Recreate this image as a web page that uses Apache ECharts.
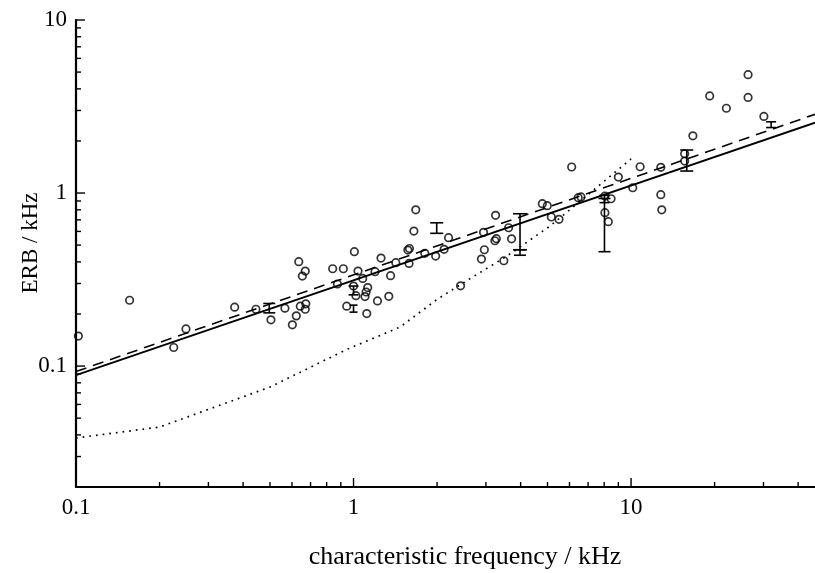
<!DOCTYPE html>
<html>
<head>
<meta charset="utf-8">
<script src="https://cdn.jsdelivr.net/npm/echarts@6/dist/echarts.min.js"></script>
<style>html,body{margin:0;padding:0;background:#fff}#c{width:815px;height:573px}</style>
</head>
<body>
<div id="c"></div>
<script>
// ---- data (kHz) ----
const X_MIN = 0.1, X_MAX = 46;
const Y_MIN = 0.02, Y_MAX = 10;
const TICK_VALUES = [0.1, 1, 10];
const TICK_LABELS = ['0.1', '1', '10'];
const X_MINOR = [0.2,0.3,0.4,0.5,0.6,0.7,0.8,0.9,2,3,4,5,6,7,8,9,20,30,40];
const Y_MINOR = [0.03,0.04,0.05,0.06,0.07,0.08,0.09,0.2,0.3,0.4,0.5,0.6,0.7,0.8,0.9,2,3,4,5,6,7,8,9];

const CF = [0.102,0.156,0.225,0.249,0.373,0.445,0.504,0.566,0.602,0.622,0.643,0.673,0.670,0.635,0.670,0.654,0.841,0.875,0.919,0.945,
  1.0,1.007,1.038,1.02,1.079,1.10,1.11,1.125,1.116,1.195,1.22,1.256,1.34,1.36,1.42,1.585,1.57,1.59,1.65,1.676,
  1.806,1.977,2.12,2.20,2.43,2.89,2.96,2.94,3.25,3.23,3.27,3.48,3.62,3.71,4.79,4.99,5.16,5.50,6.11,6.45,
  6.6,8.05,8.47,8.05,8.28,9.0,10.14,10.78,12.8,12.8,12.9,15.6,15.6,16.7,19.2,22.05,26.4,26.4,30.1];
const ERB = [0.149,0.240,0.128,0.164,0.219,0.213,0.185,0.216,0.173,0.195,0.222,0.229,0.213,0.401,0.354,0.331,0.365,0.298,0.365,0.222,
  0.29,0.458,0.354,0.255,0.321,0.252,0.268,0.284,0.201,0.351,0.238,0.421,0.253,0.333,0.396,0.392,0.468,0.478,0.603,0.80,
  0.448,0.432,0.473,0.552,0.291,0.415,0.470,0.593,0.743,0.53,0.545,0.406,0.63,0.544,0.868,0.845,0.727,0.705,1.414,0.94,
  0.95,0.96,0.927,0.77,0.683,1.237,1.073,1.419,1.408,0.978,0.80,1.687,1.53,2.14,3.64,3.09,4.83,3.57,2.77];

const EB_X  = [0.497,1.0,1.0,1.994,3.98,3.98,8.02,8.02,15.87,31.96];
const EB_LO = [0.203,0.205,0.258,0.585,0.47,0.437,0.458,0.88,1.34,2.39];
const EB_HI = [0.230,0.225,0.290,0.673,0.759,0.47,0.93,0.97,1.772,2.58];

const SOLID_X = [0.1, 46];
const SOLID_Y = [0.0887, 2.55];
const DASH_X = [0.1, 46];
const DASH_Y = [0.093, 2.85];
const DOT_X = [0.1,0.2,0.5,0.948,1.47,1.994,2.48,3.57,5.11,7.11,10];
const DOT_Y = [0.0384,0.0444,0.0756,0.125,0.168,0.242,0.302,0.432,0.645,1.0,1.574];

const X_TITLE = 'characteristic frequency / kHz';
const Y_TITLE = 'ERB / kHz';

// ---- build ----
const FONT = '"Liberation Serif","DejaVu Serif",serif';
const zip = (a, b) => a.map((v, i) => [v, b[i]]);
function fmt(v){
  for (let i = 0; i < TICK_VALUES.length; i++) {
    if (Math.abs(v - TICK_VALUES[i]) / TICK_VALUES[i] < 1e-6) return TICK_LABELS[i];
  }
  return '';
}
const xTickData = TICK_VALUES.map(v => [v, Y_MIN, 9]).concat(X_MINOR.map(v => [v, Y_MIN, 5]));
const yTickData = TICK_VALUES.map(v => [X_MIN, v, 9]).concat(Y_MINOR.map(v => [X_MIN, v, 5]));
const ebData = EB_X.map((x, i) => [x, EB_LO[i], EB_HI[i]]);
const EB_CAP = [6,4,5,6.5,7,6,6,5,6.5,5];

const stroke = { stroke: '#000', lineWidth: 1.6 };

const chart = echarts.init(document.getElementById('c'), null, { renderer: 'canvas' });
chart.setOption({
  animation: false,
  backgroundColor: '#fff',
  grid: { left: 76, right: 0, top: 20, bottom: 86, containLabel: false },
  xAxis: {
    type: 'log', logBase: 10, min: X_MIN, max: X_MAX,
    axisLine: { show: true, lineStyle: { color: '#000', width: 2.2 } },
    axisTick: { show: false },
    splitLine: { show: false },
    minorTick: { show: false },
    axisLabel: { formatter: fmt, color: '#000', fontFamily: FONT, fontSize: 23, margin: 9, showMinLabel: true, showMaxLabel: false }
  },
  yAxis: {
    type: 'log', logBase: 10, min: Y_MIN, max: Y_MAX,
    axisLine: { show: true, lineStyle: { color: '#000', width: 2.2 } },
    axisTick: { show: false },
    splitLine: { show: false },
    minorTick: { show: false },
    axisLabel: { formatter: fmt, color: '#000', fontFamily: FONT, fontSize: 23, margin: 9, showMinLabel: false, showMaxLabel: true }
  },
  graphic: [
    { type: 'text', x: 465, y: 557, style: { text: X_TITLE, font: '26px ' + FONT, fill: '#000', align: 'center', verticalAlign: 'middle' } },
    { type: 'text', x: 31, y: 243, rotation: Math.PI / 2, style: { text: Y_TITLE, font: '23px ' + FONT, fill: '#000', align: 'center', verticalAlign: 'middle' } }
  ],
  series: [
    { type: 'line', data: zip(SOLID_X, SOLID_Y), showSymbol: false, silent: true,
      lineStyle: { color: '#000', width: 1.8, type: 'solid' }, z: 3 },
    { type: 'line', data: zip(DASH_X, DASH_Y), showSymbol: false, silent: true,
      lineStyle: { color: '#000', width: 1.6, type: [11, 7] }, z: 3 },
    { type: 'line', data: zip(DOT_X, DOT_Y), showSymbol: false, silent: true,
      lineStyle: { color: '#000', width: 1.7, type: [1.7, 5] }, z: 3 },
    { type: 'scatter', data: zip(CF, ERB), symbol: 'circle', symbolSize: 7.5, silent: true,
      itemStyle: { color: 'rgba(255,255,255,0)', borderColor: '#000', borderWidth: 1.7 }, z: 5 },
    { type: 'custom', data: ebData, encode: { x: 0, y: [1, 2] }, silent: true, z: 6, clip: false,
      renderItem: function (params, api) {
        const x = api.value(0), lo = api.value(1), hi = api.value(2);
        const w = EB_CAP[params.dataIndex];
        const a = api.coord([x, lo]), b = api.coord([x, hi]);
        return { type: 'group', children: [
          { type: 'line', shape: { x1: a[0], y1: a[1], x2: b[0], y2: b[1] }, style: stroke },
          { type: 'line', shape: { x1: a[0] - w, y1: a[1], x2: a[0] + w, y2: a[1] }, style: stroke },
          { type: 'line', shape: { x1: b[0] - w, y1: b[1], x2: b[0] + w, y2: b[1] }, style: stroke }
        ] };
      } },
    { type: 'custom', data: xTickData, encode: { x: 0, y: 1 }, silent: true, z: 7, clip: false,
      renderItem: function (params, api) {
        const p = api.coord([api.value(0), api.value(1)]);
        const len = api.value(2);
        return { type: 'line', shape: { x1: p[0], y1: p[1], x2: p[0], y2: p[1] - len }, style: { stroke: '#000', lineWidth: 1.4 } };
      } },
    { type: 'custom', data: yTickData, encode: { x: 0, y: 1 }, silent: true, z: 7, clip: false,
      renderItem: function (params, api) {
        const p = api.coord([api.value(0), api.value(1)]);
        const len = api.value(2);
        return { type: 'line', shape: { x1: p[0], y1: p[1], x2: p[0] + len, y2: p[1] }, style: { stroke: '#000', lineWidth: 1.4 } };
      } }
  ]
});
</script>
</body>
</html>
